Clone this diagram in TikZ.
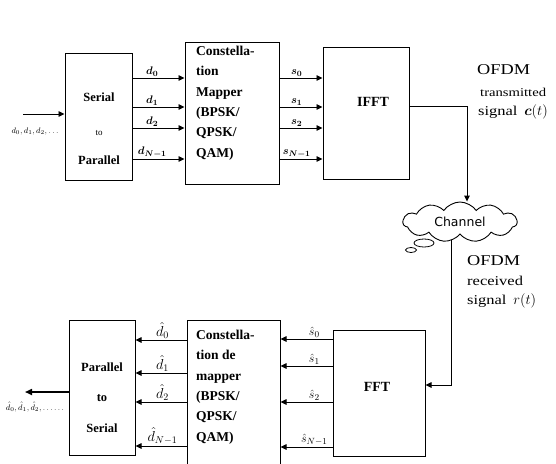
\documentclass[tikz,border=0pt]{standalone}
\usepackage{amsmath}
\usepackage{fontspec}
\setmainfont{Liberation Serif}
\newfontfamily\chfont{DejaVu Sans}
\newfontfamily\widefont[FakeStretch=1.22]{Liberation Serif}
\usetikzlibrary{shapes.symbols,shapes.geometric,arrows.meta}
\pgfdeclarelayer{bg}
\pgfsetlayers{bg,main}
\begin{document}
\begin{tikzpicture}[x=1pt,y=-1pt,
  blk/.style={draw,line width=1pt,inner sep=0pt},
  arr/.style={line width=0.9pt,-{Triangle[length=6pt,width=5.5pt]}},
  ln/.style={line width=0.9pt},
  btxt/.style={font=\fontsize{12.5}{14}\selectfont\bfseries,inner sep=0pt},
  bigb/.style={font=\fontsize{14}{16}\selectfont\bfseries,inner sep=0pt},
  mtxt/.style={font=\fontsize{13.5}{20.3}\selectfont\bfseries,align=left,inner sep=0pt,anchor=north west},
  lab/.style={font=\fontsize{11}{12}\selectfont,inner sep=1pt,anchor=south},
  side/.style={font=\widefont\fontsize{13.5}{15}\selectfont,inner sep=0pt,anchor=west}]
\clip (0,0) rectangle (556,463);
\begin{pgfonlayer}{bg}
\fill[white] (0,0) rectangle (556,463);
\end{pgfonlayer}

% top row boxes
\node[blk,minimum width=67pt,minimum height=127pt] (sp) at (98.5,116.5) {};
\node[blk,minimum width=94pt,minimum height=142pt] (map) at (232,113) {};
\node[blk,minimum width=86pt,minimum height=132pt] (ifft) at (366,113) {};
\node[btxt] (spa) at (99,97) {Serial};
\node[inner sep=0pt,font=\fontsize{9}{10}\selectfont] (spb) at (99,133) {to};
\node[btxt] (spc) at (99,160) {Parallel};
\node[mtxt] (mapt) at (196,46) {Constella-\\tion\\Mapper\\(BPSK/\\QPSK/\\QAM)};
\node[bigb] (ifftt) at (373,102) {IFFT};

% input
\coordinate (in) at (23,114);
\draw[arr] (in) -- (in -| sp.west);
\node[font=\fontsize{8}{9}\selectfont,inner sep=0pt] (inl) at (35,131) {$d_0, d_1, d_2,\ldots$};

% d arrows
\foreach \y/\t [count=\i] in {78/0,107/1,128/2,159/{N-1}}{
  \draw[arr] (sp.east |- 0,\y) -- node[lab,pos=0.38] (dl\i) {$\boldsymbol{d}_{\boldsymbol{\t}}$} (map.west |- 0,\y);
  \draw[arr] (map.east |- 0,\y) -- node[lab,pos=0.4] (sl\i) {$\boldsymbol{s}_{\boldsymbol{\t}}$} (ifft.west |- 0,\y);
}

% outputs text
\node[side,font=\widefont\fontsize{15}{16}\selectfont] (o1) at (477,70) {OFDM};
\node[side,font=\widefont\fontsize{12}{13}\selectfont] (o2) at (480,92) {transmitted};
\node[side] (o3) at (478,112) {signal\enspace$\boldsymbol{c}(t)$};
\node[side,font=\widefont\fontsize{15}{16}\selectfont] (r1) at (467,261) {OFDM};
\node[side] (r2) at (467,281) {received};
\node[side] (r3) at (467,301) {signal\enspace$r(t)$};

% channel cloud
\node[cloud,draw,line width=0.9pt,fill=white,cloud puffs=11,cloud puff arc=110,aspect=3.2,
      minimum width=114pt,minimum height=40pt,inner sep=0pt,font=\chfont\fontsize{12.5}{13}\selectfont] (ch) at (460,222) {Channel};
\node[ellipse,draw,line width=0.8pt,fill=white,minimum width=20pt,minimum height=8pt,inner sep=0pt] (t1) at (424,243) {};
\node[ellipse,draw,line width=0.8pt,fill=white,minimum width=11pt,minimum height=5pt,inner sep=0pt] (t2) at (411,250) {};

% bottom row boxes
\node[blk,minimum width=92pt,minimum height=126pt] (fft) at (379,393) {};
\node[blk,minimum width=93pt,minimum height=160pt] (dem) at (233.5,400) {};
\node[blk,minimum width=66pt,minimum height=135pt] (ps) at (102,387.5) {};
\node[bigb] (fftt) at (377,387) {FFT};
\node[mtxt] (demt) at (196,330) {Constella-\\tion de\\mapper\\(BPSK/\\QPSK/\\QAM)};
\node[btxt] (psa) at (102,367) {Parallel};
\node[btxt] (psb) at (102,398) {to};
\node[btxt] (psc) at (102,428) {Serial};

% channel connections
\coordinate (tx) at (467,106);
\coordinate (rx) at (451,385);
\begin{pgfonlayer}{bg}
\draw[ln] (ifft.east |- tx) -- (tx);
\draw[arr] (tx) -- (tx |- ch.north);
\draw[arr] (rx |- ch.center) -- (rx) -- (fft.east |- rx);
\end{pgfonlayer}

% shat and dhat arrows
\foreach \y/\t [count=\i] in {339/0,366/1,402/2,447/{N-1}}{
  \draw[arr] (fft.west |- 0,\y) -- node[lab,pos=0.35,font=\fontsize{13}{14}\selectfont] (shl\i) {$\hat{s}_{\t}$} (dem.east |- 0,\y);
}
\foreach \y/\t [count=\i] in {340/0,373/1,402/2,446/{N-1}}{
  \draw[arr] (dem.west |- 0,\y) -- node[lab,pos=0.47,font=\fontsize{14.5}{15}\selectfont] (dhl\i) {$\hat{d}_{\t}$} (ps.east |- 0,\y);
}

% output
\coordinate (out) at (25,392);
\draw[line width=1.6pt,-{Triangle[length=7pt,width=6pt]}] (ps.west |- out) -- (out);
\node[font=\fontsize{8}{9}\selectfont,inner sep=0pt] (outl) at (35,407) {$\hat{d}_0,\hat{d}_1,\hat{d}_2,\ldots\ldots$};
\end{tikzpicture}
\end{document}
